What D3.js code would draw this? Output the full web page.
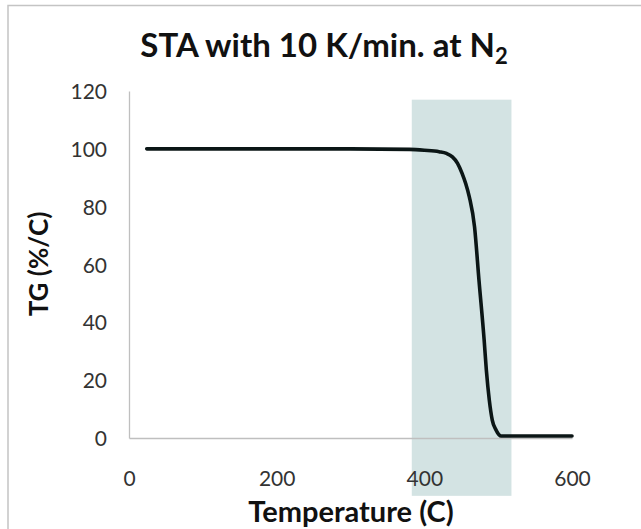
<!DOCTYPE html>
<html>
<head>
<meta charset="utf-8">
<script src="https://cdn.jsdelivr.net/npm/d3@7"></script>
<style>
  body { margin: 0; background: #fff; }
  text { font-family: Lato, "Open Sans", sans-serif; }
</style>
</head>
<body>
<div id="chart"></div>
<script>
// data
var tempC = [24, 100, 200, 300, 380, 400, 420, 430, 438, 445, 451, 456, 461, 468, 474, 481, 484, 488, 492, 497, 504, 550, 600];
var tgPct = [100, 100, 100, 100, 99.8, 99.5, 99.0, 98.4, 97.2, 95.0, 91.6, 88.0, 83.3, 73, 54.6, 33.9, 23.5, 13.1, 6.2, 2.8, 0.7, 0.7, 0.7];
var shadeT = [383, 518];     // highlighted decomposition range
var shadeTG = [117, -20];
var xTicks = [0, 200, 400, 600];
var yTicks = [0, 20, 40, 60, 80, 100, 120];

var width = 641, height = 529;

var svg = d3.select('#chart').append("svg")
    .attr("width", width)
    .attr("height", height);

// chart area border (top + left only visible)
svg.append("path")
    .attr("d", "M8,529V5.5H641")
    .attr("fill", "none")
    .attr("stroke", "#c4c4c4")
    .attr("stroke-width", 1.5);

var x = d3.scaleLinear().domain([0, 600]).range([129, 572]);
var y = d3.scaleLinear().domain([0, 120]).range([438, 91]);

// shaded band
svg.append("rect")
    .attr("x", x(shadeT[0]))
    .attr("width", x(shadeT[1]) - x(shadeT[0]))
    .attr("y", y(shadeTG[0]))
    .attr("height", y(shadeTG[1]) - y(shadeTG[0]))
    .attr("fill", "#d3e3e3");

// axes lines (no tick marks)
var gx = svg.append("g").attr("transform", "translate(0,438)")
    .call(d3.axisBottom(x).tickValues(xTicks).tickSize(0).tickPadding(33));
var gy = svg.append("g").attr("transform", "translate(129,0)")
    .call(d3.axisLeft(y).tickValues(yTicks).tickSize(0).tickPadding(22));
[gx, gy].forEach(function (g) {
    g.select(".domain").attr("stroke", "#bfbfbf").attr("stroke-width", 1.3);
    g.selectAll("text")
        .attr("font-family", "Lato, sans-serif")
        .attr("font-size", 21)
        .attr("fill", "#333");
});
gy.selectAll("text").attr("dy", "0.36em");

// the TG curve
var line = d3.line()
    .x(function (d, i) { return x(tempC[i]); })
    .y(function (d) { return y(d); })
    .curve(d3.curveMonotoneX);
svg.append("path")
    .datum(tgPct)
    .attr("d", line)
    .attr("fill", "none")
    .attr("stroke", "#0b1616")
    .attr("stroke-width", 3.6)
    .attr("stroke-linecap", "round");

// title
var title = svg.append("text")
    .attr("x", 324)
    .attr("y", 57)
    .attr("text-anchor", "middle")
    .attr("font-weight", "bold")
    .attr("font-size", 33)
    .attr("fill", "#111");
title.append("tspan").text("STA with 10 K/min. at N");
title.append("tspan").attr("font-size", 22).attr("dy", 7).text("2");

// axis titles
svg.append("text")
    .attr("x", 351)
    .attr("y", 522)
    .attr("text-anchor", "middle")
    .attr("font-weight", "bold")
    .attr("font-size", 29)
    .attr("fill", "#111")
    .text("Temperature (C)");

svg.append("text")
    .attr("transform", "translate(48,264) rotate(-90)")
    .attr("text-anchor", "middle")
    .attr("font-weight", "bold")
    .attr("font-size", 26)
    .attr("fill", "#111")
    .text("TG (%/C)");
</script>
</body>
</html>
